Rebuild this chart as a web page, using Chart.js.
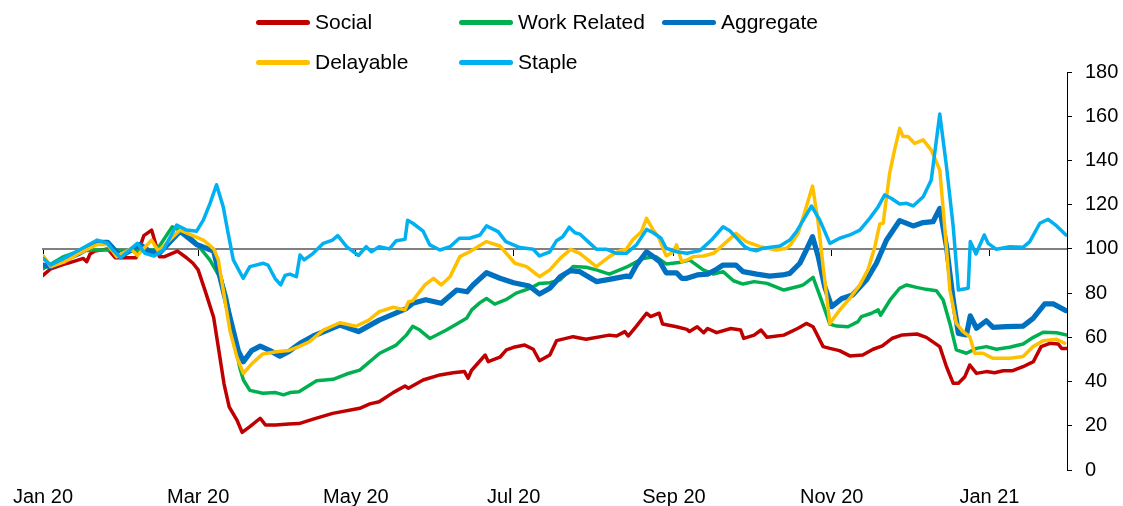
<!DOCTYPE html>
<html>
<head>
<meta charset="utf-8">
<script src="https://cdn.jsdelivr.net/npm/chart.js@4.4.1/dist/chart.umd.min.js"></script>
<style>
  html, body { margin: 0; padding: 0; background: #fff; }
  #wrap { position: relative; width: 1123px; height: 506px; }
  #chart { position: absolute; left: 0; top: 0; }
  #legend {
    position: absolute; left: 256px; top: 2px;
    display: grid; grid-template-columns: 203px 203px 203px; grid-auto-rows: 40px;
    font-family: "Liberation Sans", Arial, sans-serif; font-size: 21px; color: #000;
  }
  .item { display: flex; align-items: center; white-space: nowrap; }
  .swatch { display: inline-block; width: 54px; height: 5px; border-radius: 3px; margin-right: 5px; }
</style>
</head>
<body>
<div id="wrap">
  <canvas id="chart" width="1123" height="506"></canvas>
  <div id="legend"></div>
</div>
<script>
// x values are days since 1 Jan 2020
const tickDays = [0, 60, 121, 182, 244, 305, 366];
const tickLabels = ['Jan 20', 'Mar 20', 'May 20', 'Jul 20', 'Sep 20', 'Nov 20', 'Jan 21'];
const seriesNames = ['Social', 'Work Related', 'Aggregate', 'Delayable', 'Staple'];
const seriesColors = ['#C00000', '#00B050', '#0070C0', '#FFC000', '#00B0F0'];

const social = [[0,88],[3,91],[8,93],[10.4,93.8],[15.6,95.7],[16.9,94.2],[18.2,97.7],[20,99],[25,100],[28,96],[34,96],[36,96],[39,106],[42,108.5],[45,96.5],[47,96.5],[52,99],[55.5,96],[58,93.5],[60,90.5],[63,80],[66,69],[68,54],[70,39],[72,28.6],[75,22.6],[77,17],[80,19.6],[84,23.4],[86,20.4],[90,20.4],[95,20.8],[99,21],[104.5,23],[112,25.6],[122.5,27.9],[126.4,29.9],[130,30.9],[135.4,35],[140,38],[141.3,37],[147,40.7],[153.5,43],[158.6,44],[163,44.5],[164.4,41.5],[165.7,45],[171,52],[172.2,49],[176.7,51],[179.2,54.3],[182,55.5],[186.3,56.5],[189.6,54.6],[192,49.4],[196,52],[198.6,58.5],[205,60.3],[210,59.1],[219,61],[221.8,60.6],[225,62.6],[226.3,60.6],[229.5,65.1],[233.4,70.9],[235,69.4],[238.3,70.9],[239.6,66],[245,64.8],[249,63.6],[250,62.6],[253,64.8],[255.5,62.1],[257,64],[260.5,62.1],[266,64],[269.8,63.3],[271,59.5],[275,61],[277.7,63.3],[280,60],[286.5,61],[292,64.1],[295.2,66.3],[297.8,64.8],[301.7,55.8],[304.3,55],[308,54],[312,51.6],[317,52],[321,54.6],[324.6,56.1],[328.5,59.6],[332.3,61.1],[338,61.5],[341.6,60],[346.8,55.8],[349.4,46.7],[352,39.2],[354,39.2],[356.5,42.2],[358.4,47.5],[361,43.7],[364.8,44.5],[368,44],[371.3,44.9],[375,44.9],[379,46.7],[383,49],[386,55.8],[389.4,57.3],[392.6,57],[393.9,55],[395.6,55]];

const workRelated = [[0,91],[8,96.5],[14,99],[20,99.5],[27,99.5],[34,99],[39,99.5],[44,99.5],[50,110],[55.5,107],[59,103],[64.5,95],[69,86],[71,78],[73.5,62],[76,46.7],[77.5,40.7],[80,36],[85,34.7],[90,35],[93,34],[95.5,35],[99,35.4],[105.8,40.4],[112.2,41],[117.4,43.4],[122.5,45.2],[130.2,52.8],[136.6,56.5],[140.5,61],[143,65],[145.7,63.3],[149.6,59.5],[156,63.3],[163.8,68.6],[165.8,72.4],[169,75.7],[171.5,77.6],[174.7,75],[179,77],[183,80],[188,82],[192,84.4],[196,84.7],[200,86],[205,92],[210,91.7],[214,90.5],[219,88.6],[225.6,91.7],[232,95.7],[237,96.5],[241,93.2],[246,93.8],[250,95],[255.3,90.5],[259.3,88.6],[263,89.7],[267,85.6],[270.7,84.1],[275,85.2],[280,84.4],[286.5,81.4],[292.7,83.2],[294,83.7],[297.8,87.1],[301,76.9],[304.3,66],[306.9,65.1],[311.3,64.8],[315.2,67.1],[316.5,69.4],[320.4,70.9],[323,72.4],[323.9,70],[327.6,76.9],[331.3,82.2],[334,83.7],[337.8,82.6],[341.6,81.7],[345.5,81.1],[348.1,76.9],[350.7,66.3],[353.2,54.3],[357.1,52.8],[361,55],[364.8,55.8],[368.7,54.6],[373.8,55.5],[379,57],[383,60],[386.8,62.3],[392,62.1],[395.6,61.1]];

const aggregate = [[0,92.7],[3,92],[8,95],[14,98],[21,103],[25,103],[30,96.5],[34,99.5],[37.5,102],[41,99],[45,98],[53,108],[59.4,102],[66,99],[68.4,87.5],[72.3,69],[75.5,54],[77.5,49],[80.7,54],[84,56],[87.8,54],[91.6,51.5],[95,53.5],[99.4,57.3],[104.5,60.6],[114.8,65.6],[122,62.6],[130,67.8],[140.5,73],[143,75.4],[148,77],[154,75.4],[160,81.4],[164,80.6],[166.3,83.7],[171.5,89.2],[176.7,86.7],[182,84.7],[188,83.2],[192,79.6],[196,82.2],[200,87.4],[204,90.2],[207.6,89.7],[214,85.2],[219,86.2],[225.6,87.7],[227,87.4],[229.5,92.7],[233.4,98.7],[236,96.5],[238.5,94.2],[241,89.2],[245,89.2],[247,86.7],[249,86.7],[253,88.2],[257,88.6],[260.5,90.8],[263,92.7],[268,92.7],[270.7,89.7],[276,88.6],[281,87.7],[286,88.2],[288.8,88.9],[292.7,93.5],[295.2,99.5],[297.6,105.5],[299.8,96.5],[302.3,82.9],[305,73.9],[309,77.6],[313,79.1],[318.4,85.9],[322.3,93.5],[326.2,104],[331.3,112.8],[336.5,110.4],[340.4,111.9],[344.2,112.3],[346.8,118.3],[349.4,101],[352,76.9],[354,61.8],[357.1,61.1],[358.6,69.7],[361,64.1],[364.8,67.5],[367.4,64.5],[372.5,64.8],[379,65.1],[382.9,68.6],[387.4,75.1],[390.7,75.1],[395.6,72.1]];

const delayable = [[0,97],[3,92],[8,94],[14,98],[21,102],[25,102],[28.5,96.5],[34,100],[36.5,97],[42,104],[44.6,99],[53,108.5],[58,106],[62,104],[66,100],[67.8,95],[69.7,81.4],[72.3,63],[75,51],[77.5,43.7],[80.7,48],[85,52.5],[90.3,53.5],[95,54],[99.4,56],[103,58],[108.4,63.3],[114.8,66.6],[121,65],[126,67.8],[130,71.6],[135.4,73.6],[140,72.4],[141.3,76],[143,76.6],[147.7,83.7],[151,86.7],[154,83.7],[157.4,87.4],[161.2,96.5],[165,98.7],[171.5,103.3],[176.7,101.3],[182.5,93.5],[187,92],[192,87.4],[196,90.5],[200,95.7],[204,99.8],[207.6,98],[214,92],[219,96.5],[223,99.2],[225.6,99.8],[228,104],[231.4,107.8],[233.4,113.8],[236,108.5],[238,105.5],[241,96.8],[243.7,98.7],[245,101.8],[247,94.2],[249,95],[251.6,96.5],[255.5,96.8],[259.3,98],[263,101.8],[268,107],[272,103.3],[277.3,101],[283.6,99.5],[287.5,100.3],[289,101.8],[292,107],[295.2,119.1],[297.6,128.4],[299.8,111.6],[301.7,92],[304.3,66.3],[308.1,72.4],[312,77.6],[315.9,83.7],[319,90.5],[321.7,101],[323.6,111.3],[324.9,111.6],[327.4,134.2],[329.3,144.7],[331.3,154.5],[332.6,150.8],[334.5,150.8],[337.1,147.7],[340.4,149.3],[343.5,144.7],[346.8,135.7],[348.7,110],[350.7,81.4],[353.2,66.3],[355.8,62.6],[358.4,60.3],[360.3,52.8],[363.5,52.8],[367.4,50.5],[373.8,50.5],[379,51.3],[382.9,55.8],[386.8,58.5],[392,59.1],[395.1,57.3]];

const staple = [[0,95.7],[3,92.7],[8,95.7],[14,99.5],[21,104],[25,102.5],[27,99.5],[30,96],[34,100],[36.5,102.5],[39.4,98],[43,96.8],[46.5,99.5],[51.7,110.8],[55.5,108.5],[59.4,108],[62,113],[64.6,120.6],[67.1,129],[69.7,119],[71.6,107],[73.6,95],[77.4,86.7],[80,92],[85.2,93.5],[87,92.7],[89.7,86.7],[91.9,83.7],[93.6,88],[95.5,88.6],[98,87.4],[99.4,97.2],[101,95],[104.5,98],[108.4,102.5],[112,104],[114,106],[117.4,101],[122,97],[125,101],[127,98.7],[130,101],[134,100],[136.6,103.7],[140,104.3],[141,113],[143,111.6],[147,108],[149.6,101.8],[153.5,99.5],[157.4,101],[161,104.8],[165,104.8],[169,106.3],[171.5,110.4],[176,107.8],[179,103.3],[184.4,100.6],[189.6,99.8],[192,96.8],[196,98.7],[198.6,103.7],[201,105.5],[203.5,109.8],[205.7,107.3],[207.6,106.7],[210.8,103.3],[214,99.8],[218,99.8],[221.8,98],[225.6,98],[229.5,101.8],[233.4,108.8],[236,107.3],[239,104.8],[241,100.3],[245,98.7],[249,98],[254,99.2],[258.5,104],[263,110],[265.6,108.2],[268,105.2],[271.4,101],[273.3,99.8],[276,99.2],[278.5,100.3],[285,101.3],[288.8,104],[291.4,107.8],[294,113],[297.2,119.4],[300.4,113],[304.3,102.5],[308.1,104.8],[312,106.3],[315.9,108.5],[319.7,113.8],[323,119.1],[325.5,124.4],[328,122.9],[331.3,120.3],[334,120.6],[336.5,119.4],[340.4,123.6],[343.5,131.2],[346.8,161],[349.4,137.2],[352,110],[354,81.4],[357.8,82.2],[358.6,103.3],[360.8,97.7],[364,106.3],[365.5,102.5],[368.7,99.8],[373.8,101],[379,100.7],[381.6,103.3],[385.5,111.6],[388.7,113.4],[392,110.4],[395.6,106.3]];

const seriesData = [social, workRelated, aggregate, delayable, staple];
const FONT = '"Liberation Sans", Arial, sans-serif';

const datasets = seriesNames.map((name, i) => ({
  label: name,
  data: seriesData[i].map(p => ({ x: p[0], y: p[1] })),
  borderColor: seriesColors[i],
  backgroundColor: seriesColors[i],
  borderWidth: name === 'Aggregate' ? 5.25 : 3.5,
  pointRadius: 0,
  tension: 0,
  fill: false,
  borderJoinStyle: 'round',
  borderCapStyle: 'round',
  order: seriesNames.length - i
}));

const setMonthTicks = s => { s.ticks = tickDays.map(v => ({ value: v })); };

const chart = new Chart(document.getElementById('chart'), {
  type: 'line',
  data: { datasets },
  options: {
    responsive: false,
    animation: false,
    layout: { padding: { left: 43, top: 72, right: 0, bottom: 0 } },
    plugins: { legend: { display: false }, tooltip: { enabled: false } },
    scales: {
      x: {
        type: 'linear', min: 0, max: 396, position: 'bottom',
        afterBuildTicks: setMonthTicks,
        afterFit: s => { s.height = 36; s.paddingLeft = 0; s.paddingRight = 0; },
        grid: { display: false, drawTicks: false },
        border: { display: false },
        ticks: {
          autoSkip: false, maxRotation: 0, padding: 15, color: '#000',
          font: { size: 20, family: FONT },
          callback: (v, i) => tickLabels[i]
        }
      },
      x2: {
        type: 'linear', axis: 'x', min: 0, max: 396, position: { y: 100 },
        afterBuildTicks: setMonthTicks,
        grid: { display: true, drawOnChartArea: false, drawTicks: true, tickLength: 6, color: '#000', lineWidth: 1 },
        border: { display: true, color: '#808080', width: 2 },
        ticks: { display: false }
      },
      y: {
        position: 'right', min: 0, max: 180,
        afterFit: s => { s.width = 56; },
        grid: { display: true, drawOnChartArea: false, drawTicks: true, tickLength: 5, color: '#000' },
        border: { display: true, color: '#000', width: 1 },
        ticks: { stepSize: 20, padding: 13, color: '#000', font: { size: 20, family: FONT } }
      }
    }
  }
});

// HTML legend built from the chart's datasets
const legendEl = document.getElementById('legend');
chart.data.datasets.forEach(ds => {
  const item = document.createElement('div');
  item.className = 'item';
  const sw = document.createElement('span');
  sw.className = 'swatch';
  sw.style.background = ds.borderColor;
  const txt = document.createElement('span');
  txt.textContent = ds.label;
  item.appendChild(sw);
  item.appendChild(txt);
  legendEl.appendChild(item);
});
</script>
</body>
</html>
